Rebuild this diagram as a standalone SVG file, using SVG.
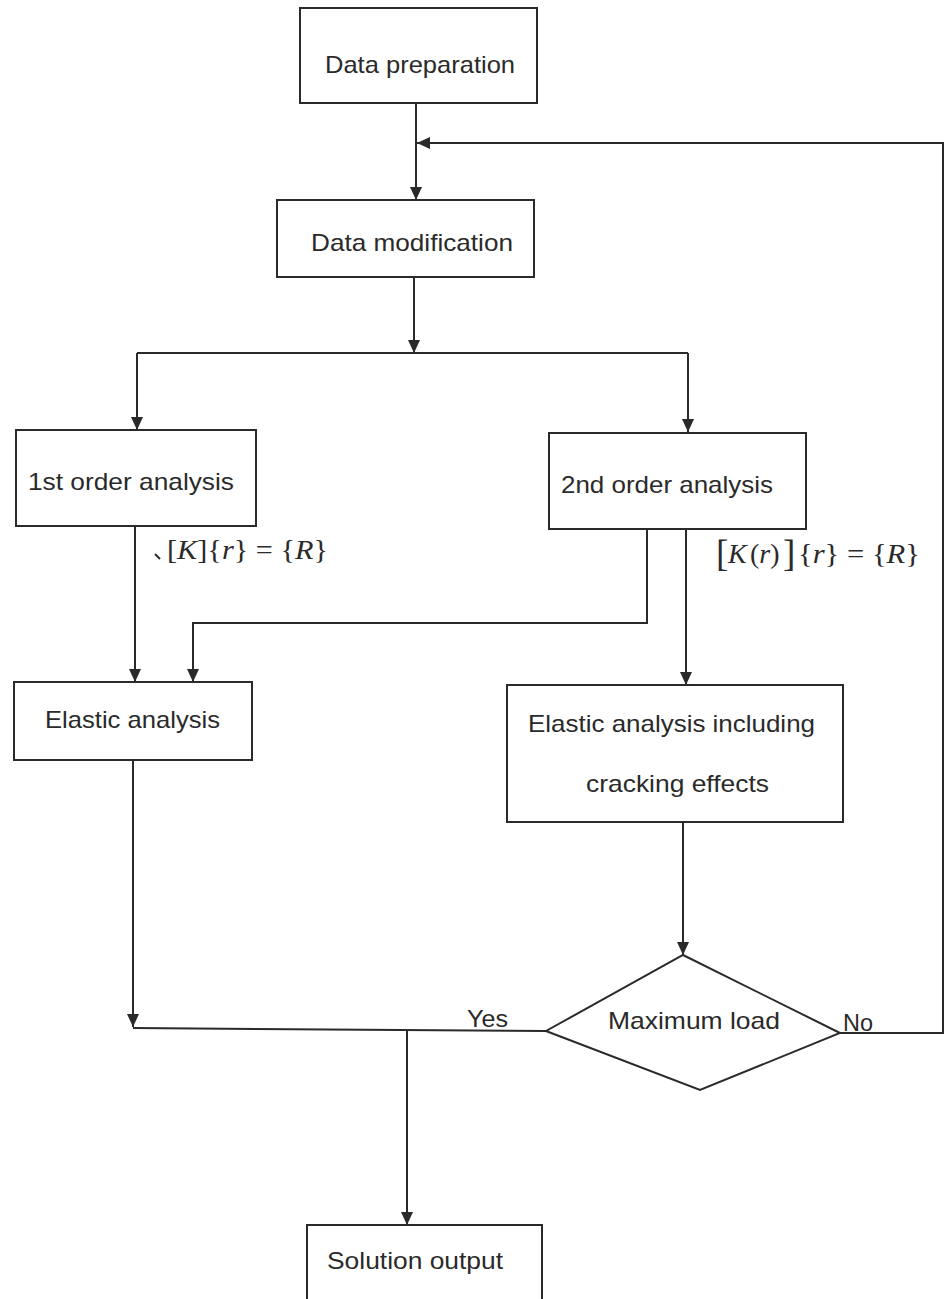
<svg xmlns="http://www.w3.org/2000/svg" width="947" height="1299" viewBox="0 0 947 1299">
<style>
.box{fill:#fff;stroke:#2a2a2a;stroke-width:2}
.ln{fill:none;stroke:#2a2a2a;stroke-width:2}
.t{font-family:"Liberation Sans",Arial,sans-serif;font-size:24px;fill:#2a2a2a}
.f{font-family:"Liberation Serif","Times New Roman",serif;font-size:28px;fill:#2a2a2a}
.big{font-size:37px}
.i{font-style:italic}
</style>
<defs>
<marker id="arr" viewBox="0 0 13 12" refX="13" refY="6" markerWidth="13" markerHeight="12" markerUnits="userSpaceOnUse" orient="auto">
<path d="M0,0 L13,6 L0,12 z" fill="#2a2a2a"/>
</marker>
</defs>
<rect width="947" height="1299" fill="#fff"/>
<g id="connectors">
<path class="ln" d="M416,103 V200" marker-end="url(#arr)"/>
<path class="ln" d="M840,1033 H943 V143 H417" marker-end="url(#arr)"/>
<path class="ln" d="M414,277 V353" marker-end="url(#arr)"/>
<path class="ln" d="M137,353 H688"/>
<path class="ln" d="M137,353 V430" marker-end="url(#arr)"/>
<path class="ln" d="M688,353 V432" marker-end="url(#arr)"/>
<path class="ln" d="M135,526 V682" marker-end="url(#arr)"/>
<path class="ln" d="M647,529 V623 H193 V682" marker-end="url(#arr)"/>
<path class="ln" d="M686,529 V685" marker-end="url(#arr)"/>
<path class="ln" d="M683,822 V955" marker-end="url(#arr)"/>
<path class="ln" d="M133,760 V1027" marker-end="url(#arr)"/>
<path class="ln" d="M133,1028 L546,1031"/>
<path class="ln" d="M407,1030 V1225" marker-end="url(#arr)"/>
<text class="t" x="467" y="1027" textLength="41" lengthAdjust="spacingAndGlyphs">Yes</text>
<text class="t" x="843" y="1031" textLength="30" lengthAdjust="spacingAndGlyphs">No</text>
<g id="eq1">
<path class="ln" d="M155,554 L160,559" stroke-width="1.2"/>
<text class="f" x="167" y="559" textLength="161" lengthAdjust="spacingAndGlyphs">[<tspan class="i">K</tspan>]{<tspan class="i">r</tspan>} = {<tspan class="i">R</tspan>}</text>
</g>
<g id="eq2">
<text class="f big" x="716" y="566">[</text>
<text class="f i" x="728" y="563">K</text>
<text class="f" x="750" y="563">(<tspan class="i">r</tspan>)</text>
<text class="f big" x="783" y="566">]</text>
<text class="f" x="798" y="563" textLength="122" lengthAdjust="spacingAndGlyphs">{<tspan class="i">r</tspan>} = {<tspan class="i">R</tspan>}</text>
</g>
</g>
<g id="data-preparation">
<rect class="box" x="300" y="8" width="237" height="95"/>
<text class="t" x="325" y="73" textLength="190" lengthAdjust="spacingAndGlyphs">Data preparation</text>
</g>
<g id="data-modification">
<rect class="box" x="277" y="200" width="257" height="77"/>
<text class="t" x="311" y="251" textLength="202" lengthAdjust="spacingAndGlyphs">Data modification</text>
</g>
<g id="first-order">
<rect class="box" x="16" y="430" width="240" height="96"/>
<text class="t" x="28" y="490" textLength="206" lengthAdjust="spacingAndGlyphs">1st order analysis</text>
</g>
<g id="second-order">
<rect class="box" x="549" y="433" width="257" height="96"/>
<text class="t" x="561" y="493" textLength="212" lengthAdjust="spacingAndGlyphs">2nd order analysis</text>
</g>
<g id="elastic-analysis">
<rect class="box" x="14" y="682" width="238" height="78"/>
<text class="t" x="45" y="728" textLength="175" lengthAdjust="spacingAndGlyphs">Elastic analysis</text>
</g>
<g id="elastic-cracking">
<rect class="box" x="507" y="685" width="336" height="137"/>
<text class="t" x="528" y="732" textLength="287" lengthAdjust="spacingAndGlyphs">Elastic analysis including</text>
<text class="t" x="586" y="792" textLength="183" lengthAdjust="spacingAndGlyphs">cracking effects</text>
</g>
<g id="maximum-load">
<path class="box" d="M683,955 L840,1033 L700,1090 L546,1031 z"/>
<text class="t" x="608" y="1029" textLength="172" lengthAdjust="spacingAndGlyphs">Maximum load</text>
</g>
<g id="solution-output">
<rect class="box" x="307" y="1225" width="235" height="85"/>
<text class="t" x="327" y="1269" textLength="176" lengthAdjust="spacingAndGlyphs">Solution output</text>
</g>
</svg>
